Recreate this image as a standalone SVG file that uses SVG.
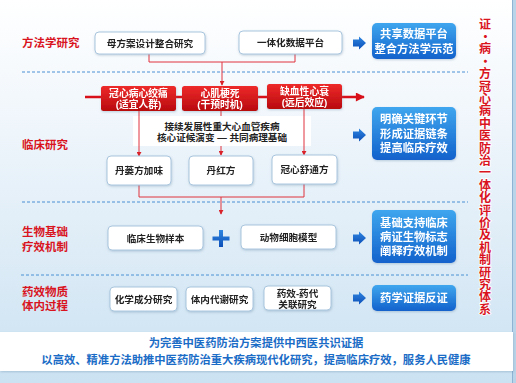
<svg xmlns="http://www.w3.org/2000/svg" width="516" height="383" viewBox="0 0 516 383">
<defs>
<linearGradient id="bg" x1="0" y1="0" x2="0" y2="1">
<stop offset="0" stop-color="#ffffff"/>
<stop offset="0.35" stop-color="#eef5fb"/>
<stop offset="1" stop-color="#cbe2f2"/>
</linearGradient>
<linearGradient id="redg" x1="0" y1="0" x2="0" y2="1">
<stop offset="0" stop-color="#ee2a2a"/>
<stop offset="1" stop-color="#b80a0e"/>
</linearGradient>
<linearGradient id="blueg" x1="0" y1="0" x2="0" y2="1">
<stop offset="0" stop-color="#3fa6ee"/>
<stop offset="1" stop-color="#1262cc"/>
</linearGradient>
<linearGradient id="arrg" x1="0" y1="0" x2="0" y2="1">
<stop offset="0" stop-color="#2f86e0"/>
<stop offset="1" stop-color="#0c4fb8"/>
</linearGradient>
<filter id="sh" x="-10%" y="-20%" width="120%" height="150%">
<feDropShadow dx="0.5" dy="1" stdDeviation="0.8" flood-color="#5a7fa0" flood-opacity="0.35"/>
</filter>
<marker id="ar" viewBox="0 0 6 6" refX="5" refY="3" markerWidth="5" markerHeight="5" orient="auto" markerUnits="userSpaceOnUse">
<path d="M0,0 L6,3 L0,6 z" fill="#d9222a"/>
</marker>
<marker id="arbig" viewBox="0 0 10 10" refX="9" refY="5" markerWidth="10" markerHeight="9" orient="auto" markerUnits="userSpaceOnUse">
<path d="M0,0 L10,5 L0,10 z" fill="#d8101a"/>
</marker>
<path id="barr" d="M0,-3.5 L6,-3.5 L6,-6.5 L13,0 L6,6.5 L6,3.5 L0,3.5 z"/>
</defs>
<style>
text{font-family:"Liberation Sans","Noto Sans CJK SC",sans-serif;font-weight:bold;}
.lbl{fill:#d9141e;font-size:11.5px;}
.wb{fill:#ffffff;stroke:#a9c6de;stroke-width:1;}
.wt{fill:#222222;font-size:9.6px;text-anchor:middle;}
.rb{fill:url(#redg);}
.rt{fill:#ffffff;font-size:9.8px;text-anchor:middle;}
.bb{fill:url(#blueg);}
.bt{fill:#ffffff;font-size:11.3px;text-anchor:middle;}
.dash{stroke:#4a90d4;stroke-width:1;stroke-dasharray:3,2;fill:none;}
.cn{stroke:#e0323c;stroke-width:1;fill:none;}
.vt{fill:#d9141e;font-size:12px;writing-mode:vertical-rl;letter-spacing:0.4px;stroke:#ffffff;stroke-width:1.6;paint-order:stroke;font-family:"Noto Sans CJK SC",sans-serif;}
.bot{fill:#1a6cc6;font-size:11.3px;text-anchor:middle;}
</style>
<rect x="0" y="0" width="516" height="383" fill="url(#bg)"/>
<rect x="512" y="0" width="4" height="383" fill="#b9d3e8"/>
<line x1="512.5" y1="0" x2="512.5" y2="383" stroke="#8fb3d3" stroke-width="1"/>

<!-- separators -->
<g id="separators">
<line class="dash" x1="22" y1="72" x2="468" y2="72"/>
<line class="dash" x1="22" y1="202" x2="468" y2="202"/>
<line class="dash" x1="21" y1="275" x2="468" y2="275"/>
</g>

<!-- row labels -->
<g id="labels">
<text class="lbl" x="22" y="47">方法学研究</text>
<text class="lbl" x="22" y="149">临床研究</text>
<text class="lbl" x="22" y="236">生物基础<tspan x="22" dy="15">疗效机制</tspan></text>
<text class="lbl" x="22" y="296">药效物质<tspan x="22" dy="13.5">体内过程</tspan></text>
</g>

<!-- connectors -->
<g id="connectors">
<polyline class="cn" points="149,54 149,62 295,62 295,54"/>
<line class="cn" x1="222" y1="62" x2="222" y2="85" marker-end="url(#ar)"/>
<line x1="85" y1="97" x2="364" y2="97" stroke="#d8101a" stroke-width="2.6" marker-end="url(#arbig)"/>
<line class="cn" x1="221" y1="111" x2="221" y2="117"/>
<line class="cn" x1="221" y1="145" x2="221" y2="155" marker-end="url(#ar)"/>
<polyline class="cn" points="139,185 139,197 304,197 304,184"/>
<line class="cn" x1="221" y1="197" x2="221" y2="214" marker-end="url(#ar)"/>
</g>

<!-- white text panel -->
<g id="n-core">
<rect x="133" y="116" width="178" height="30" fill="#ffffff"/>
<text class="wt" x="222" y="129.5">接续发展性重大心血管疾病<tspan x="222" dy="11.5">核心证候演变 — 共同病理基础</tspan></text>
</g>
<g id="connectors-over">
<line class="cn" x1="139" y1="111" x2="139" y2="156" marker-end="url(#ar)"/>
<line class="cn" x1="304" y1="109" x2="304" y2="155" marker-end="url(#ar)"/>
</g>

<!-- row 1 -->
<g id="n-mufang" filter="url(#sh)"><rect class="wb" x="95" y="32" width="110" height="22" rx="4"/><text class="wt" x="150" y="46.5">母方案设计整合研究</text></g>
<g id="n-data" filter="url(#sh)"><rect class="wb" x="239" y="31" width="103" height="23" rx="4"/><text class="wt" x="290.5" y="46">一体化数据平台</text></g>

<!-- red boxes -->
<g id="n-angina" filter="url(#sh)"><rect class="rb" x="101" y="86" width="75" height="25" rx="2.5"/><text class="rt" x="138.5" y="96.5">冠心病心绞痛<tspan x="138.5" dy="11.5">(适宜人群)</tspan></text></g>
<g id="n-mi" filter="url(#sh)"><rect class="rb" x="182" y="86" width="76" height="25" rx="2.5"/><text class="rt" x="220" y="96.5">心肌梗死<tspan x="220" dy="11.5">(干预时机)</tspan></text></g>
<g id="n-hf" filter="url(#sh)"><rect class="rb" x="267" y="84" width="75" height="25" rx="2.5"/><text class="rt" x="304.5" y="94.5">缺血性心衰<tspan x="304.5" dy="11.5">(远后效应)</tspan></text></g>

<!-- formula boxes -->
<g id="n-danlou" filter="url(#sh)"><rect class="wb" x="107" y="156" width="64" height="29" rx="4"/><text class="wt" x="139" y="174">丹蒌方加味</text></g>
<g id="n-danhong" filter="url(#sh)"><rect class="wb" x="189" y="156" width="64" height="29" rx="4"/><text class="wt" x="221" y="174">丹红方</text></g>
<g id="n-guanxin" filter="url(#sh)"><rect class="wb" x="272" y="155" width="65" height="29" rx="4"/><text class="wt" x="304.5" y="173">冠心舒通方</text></g>

<!-- row 3 -->
<g id="n-sample" filter="url(#sh)"><rect class="wb" x="108" y="226" width="95" height="24" rx="4"/><text class="wt" x="155.5" y="241.5">临床生物样本</text></g>
<g id="n-plus"><path d="M219,230 h4 v6.5 h6.5 v4 h-6.5 v6.5 h-4 v-6.5 h-6.5 v-4 h6.5 z" fill="url(#arrg)"/></g>
<g id="n-model" filter="url(#sh)"><rect class="wb" x="241" y="225" width="95" height="24" rx="4"/><text class="wt" x="288.5" y="240.5">动物细胞模型</text></g>

<!-- row 4 -->
<g id="n-chem" filter="url(#sh)"><rect class="wb" x="110" y="287" width="67" height="24" rx="4"/><text class="wt" x="143.5" y="302.5">化学成分研究</text></g>
<g id="n-metab" filter="url(#sh)"><rect class="wb" x="186" y="287" width="67" height="24" rx="4"/><text class="wt" x="219.5" y="302.5">体内代谢研究</text></g>
<g id="n-pkpd" filter="url(#sh)"><rect class="wb" x="264" y="286" width="67" height="24" rx="4"/><text class="wt" x="297.5" y="296.5">药效-药代<tspan x="297.5" dy="11">关联研究</tspan></text></g>

<!-- blue arrows -->
<g id="blue-arrows" fill="url(#arrg)">
<use href="#barr" x="353" y="43"/>
<use href="#barr" x="353" y="135"/>
<use href="#barr" x="353" y="238"/>
<use href="#barr" x="353" y="298"/>
</g>

<!-- blue result boxes -->
<g id="n-r1" filter="url(#sh)"><rect class="bb" x="372" y="23" width="84" height="36" rx="5"/><text class="bt" x="414" y="38">共享数据平台<tspan x="414" dy="15">整合方法学示范</tspan></text></g>
<g id="n-r2" filter="url(#sh)"><rect class="bb" x="372" y="107" width="84" height="53" rx="5"/><text class="bt" x="414" y="123">明确关键环节<tspan x="414" dy="14.5">形成证据链条</tspan><tspan x="414" dy="14">提高临床疗效</tspan></text></g>
<g id="n-r3" filter="url(#sh)"><rect class="bb" x="372" y="210" width="84" height="53" rx="5"/><text class="bt" x="414" y="227">基础支持临床<tspan x="414" dy="14">病证生物标志</tspan><tspan x="414" dy="14">阐释疗效机制</tspan></text></g>
<g id="n-r4" filter="url(#sh)"><rect class="bb" x="372" y="285" width="84" height="26" rx="5"/><text class="bt" x="414" y="302">药学证据反证</text></g>

<!-- vertical title -->
<g id="n-title">
<text class="vt" x="485" y="18">证·病·方冠心病中医防治一体化评价及机制研究体系</text>
</g>

<!-- bottom band -->
<g id="n-bottom">
<rect x="0" y="332" width="513" height="39" fill="#ffffff" filter="url(#sh)"/>
<text class="bot" x="256" y="347">为完善中医药防治方案提供中西医共识证据<tspan x="256" dy="17">以高效、精准方法助推中医药防治重大疾病现代化研究，提高临床疗效，服务人民健康</tspan></text>
</g>
</svg>
